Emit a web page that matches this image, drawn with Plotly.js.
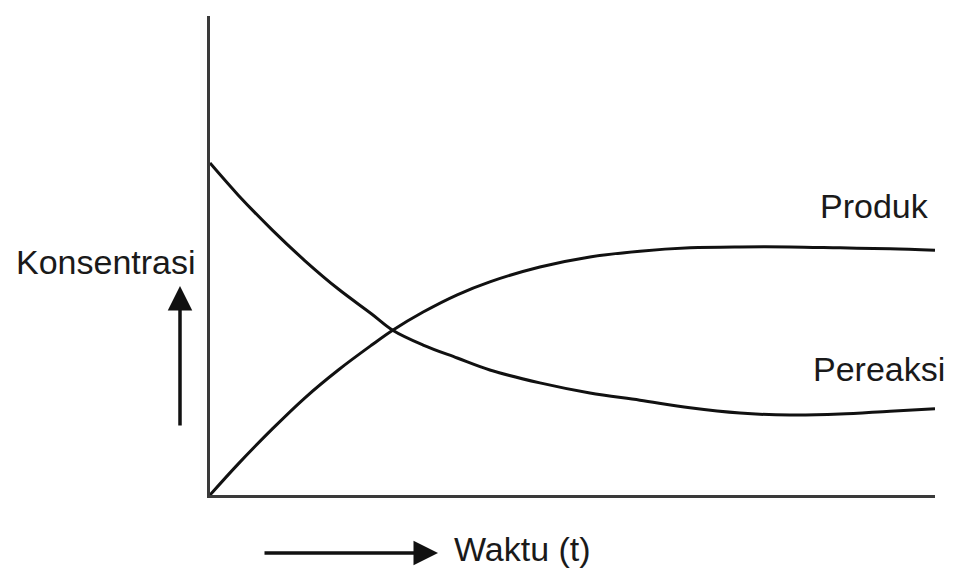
<!DOCTYPE html>
<html>
<head>
<meta charset="utf-8">
<script src="https://cdn.plot.ly/plotly-3.0.1.min.js"></script>
<style>html,body{margin:0;padding:0;background:#fff;}#chart{width:960px;height:576px;}</style>
</head>
<body>
<div id="chart"></div>
<script>
// Waktu (t), arbitrary units
var waktu = [0, 0.39, 0.86, 1.31, 1.77, 2.23, 2.52, 2.94, 3.41, 3.86, 4.55, 5.24, 5.93, 6.62, 7.31, 8.0, 8.69, 9.38, 10];
// Konsentrasi pereaksi (arbitrary units)
var pereaksi = [69.3, 62.6, 55.3, 48.9, 43.0, 37.8, 34.4, 31.3, 28.6, 26.1, 23.4, 21.3, 19.8, 18.2, 17.1, 16.7, 16.9, 17.5, 18.0];
// Konsentrasi produk (arbitrary units)
var produk = [0, 6.5, 13.8, 20.3, 26.1, 31.3, 34.4, 38.2, 41.8, 44.5, 47.6, 49.7, 50.9, 51.6, 51.8, 51.8, 51.6, 51.4, 51.1];

var labelFont = {family: "Liberation Sans, Arial, sans-serif", size: 34, color: "#1a1a1a"};

var traces = [
  {x: waktu, y: pereaksi, name: "Pereaksi", mode: "lines",
   line: {color: "#111", width: 3, shape: "spline", smoothing: 1}},
  {x: waktu, y: produk, name: "Produk", mode: "lines",
   line: {color: "#111", width: 3, shape: "spline", smoothing: 1}}
];

var layout = {
  width: 960, height: 576,
  margin: {l: 210, r: 25, t: 16, b: 81},
  paper_bgcolor: "#fff", plot_bgcolor: "#fff",
  showlegend: false,
  xaxis: {range: [0, 10], showline: true, linecolor: "#3a3a3a", linewidth: 3,
          showgrid: false, zeroline: false, showticklabels: false, ticks: ""},
  yaxis: {range: [0, 100], showline: true, linecolor: "#3a3a3a", linewidth: 3,
          showgrid: false, zeroline: false, showticklabels: false, ticks: ""},
  annotations: [
    {text: "Konsentrasi", xref: "paper", yref: "paper", x: (106-210)/725, y: (495-262)/479,
     xanchor: "center", yanchor: "middle", showarrow: false, font: labelFont},
    {text: "Produk", xref: "paper", yref: "paper", x: (874-210)/725, y: (495-206)/479,
     xanchor: "center", yanchor: "middle", showarrow: false, font: labelFont},
    {text: "Pereaksi", xref: "paper", yref: "paper", x: (879-210)/725, y: (495-369)/479,
     xanchor: "center", yanchor: "middle", showarrow: false, font: labelFont},
    {text: "Waktu (t)", xref: "paper", yref: "paper", x: (522-210)/725, y: (495-549)/479,
     xanchor: "center", yanchor: "middle", showarrow: false, font: labelFont},
    {text: "", xref: "paper", yref: "paper", x: (180-210)/725, y: (495-286)/479,
     ax: 0, ay: 141, showarrow: true, arrowhead: 2, arrowsize: 1.4, arrowwidth: 3.5, arrowcolor: "#111"},
    {text: "", xref: "paper", yref: "paper", x: (438-210)/725, y: (495-553)/479,
     ax: -175, ay: 0, showarrow: true, arrowhead: 2, arrowsize: 1.4, arrowwidth: 3.5, arrowcolor: "#111"}
  ]
};

Plotly.newPlot("chart", traces, layout, {staticPlot: true, displayModeBar: false});
</script>
</body>
</html>
